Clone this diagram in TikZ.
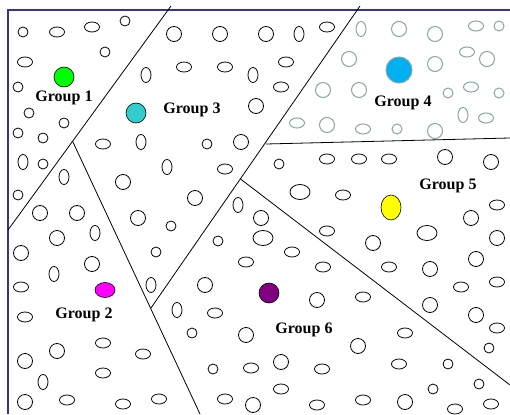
\documentclass[tikz,border=0pt]{standalone}
\usepackage{fontspec}
\setmainfont{Liberation Serif}
\definecolor{frameblue}{RGB}{51,51,153}
\definecolor{grpgray}{RGB}{138,165,165}
\definecolor{dotteal}{RGB}{51,204,204}
\definecolor{dotblue}{RGB}{0,176,240}
\definecolor{dotpurple}{RGB}{128,0,128}
\definecolor{dotmagenta}{RGB}{255,0,255}
\definecolor{dotgreen}{RGB}{0,255,0}
\definecolor{dotyellow}{RGB}{255,255,0}
\newcommand\myS[2]{\draw[el] (#1,#2) circle[radius=5];}
\newcommand\myB[2]{\draw[el] (#1,#2) circle[radius=7.5];}
\newcommand\myW[2]{\draw[el] (#1,#2) ellipse[x radius=7.5,y radius=5];}
\newcommand\myV[2]{\draw[el] (#1,#2) ellipse[x radius=5,y radius=7.5];}
\newcommand\myL[2]{\draw[el] (#1,#2) ellipse[x radius=10,y radius=7.5];}
\tikzset{
  el/.style={draw=black,line width=0.8pt},
  divider/.style={draw=black,line width=0.8pt},
  grouplabel/.style={font=\fontsize{16}{18}\selectfont\bfseries,anchor=base,inner sep=0pt},
  dot/.style={draw=black,line width=0.6pt,inner sep=0pt,ellipse,minimum width=20pt,minimum height=20pt},
}
\usetikzlibrary{shapes.geometric}
\begin{document}
\begin{tikzpicture}[x=1pt,y=-1pt]
\useasboundingbox (0,0) rectangle (510,414);
% frame
\draw[frameblue,line width=1.5pt] (8,414) -- (8,10) -- (510,10);
% dividers
\coordinate (a1) at (171,6);
\coordinate (a2) at (8,230);
\coordinate (b1) at (72.6,141.3);
\coordinate (b2) at (200,414);
\coordinate (c1) at (360,6);
\coordinate (c2) at (151,308);
\coordinate (d1) at (266,144);
\coordinate (d2) at (510,138);
\coordinate (e1) at (240.4,178.9);
\coordinate (e2) at (510,385);
\draw[divider] (a1) -- (a2);
\draw[divider] (b1) -- (b2);
\draw[divider] (c1) -- (c2);
\draw[divider] (d1) -- (d2);
\draw[divider] (e1) -- (e2);
% group 1
\myS{23}{32}\myW{57}{32}\myW{92}{27}\myS{125}{21}\myS{105}{52}\myW{25}{62}
\myS{18}{87}\myS{29}{113}\myS{64}{123}\myS{18}{133}\myS{43}{138}
\myV{23}{162}\myS{43}{164}\myV{64}{177}\myS{18}{195}
% group 2
\myB{40}{213}\myB{77}{213}\myB{57}{238}\myV{95}{233}\myB{21}{253}\myB{92}{264}
\myV{54}{274}\myW{21}{287}\myW{25}{317}\myW{103}{343}\myB{57}{351}\myW{143}{354}
\myB{25}{361}\myV{43}{382}\myW{103}{373}\myB{25}{402}\myW{67}{400}\myW{123}{404}\myW{159}{399}
% group 3
\myB{174}{34}\myB{220}{34}\myB{266}{34}\myV{299}{34}\myW{327}{27}\myW{286}{62}\myW{281}{87}
\myB{256}{106}\myV{253}{75}\myV{146}{75}\myW{184}{67}\myW{225}{67}
\myW{103}{144}\myV{141}{142}\myS{207}{144}\myB{241}{142}\myV{167}{167}\myW{225}{169}
\myB{123}{182}\myB{195}{198}\myV{238}{205}\myB{138}{218}\myS{171}{226}\myS{156}{252}\myV{151}{285}
% group 4
\begin{scope}[el/.style={draw=grpgray,line width=1pt}]
\myV{361}{29}\myB{399}{29}\myB{435}{34}\myW{476}{26}\myS{499}{26}
\myB{349}{59}\myB{435}{64}\myW{467}{52}\myB{487}{59}
\myB{323}{90}\myB{359}{90}\myS{448}{93}\myW{471}{87}\myS{499}{93}
\myW{297}{123}\myB{327}{125}\myW{363}{129}\myS{397}{129}\myB{435}{131}\myV{463}{115}\myW{486}{118}
\end{scope}
% group 5
\myS{279}{164}\myW{327}{159}\myW{359}{159}\myW{389}{159}\myB{445}{157}\myB{491}{162}
\myL{300}{192}\myW{343}{195}\myW{497}{205}\myB{471}{218}\myL{427}{233}\myB{373}{243}
\myB{497}{238}\myW{327}{231}\myW{389}{267}\myB{430}{269}\myB{476}{259}\myW{461}{287}
\myW{497}{282}\myB{430}{305}\myB{476}{315}\myW{497}{328}\myS{489}{348}
% group 6
\myB{261}{218}\myL{263}{238}\myW{292}{252}\myW{323}{267}\myW{246}{262}\myS{218}{241}
\myB{205}{285}\myW{215}{313}\myV{177}{310}\myS{192}{333}\myB{246}{335}
\myB{317}{300}\myW{363}{297}\myW{405}{333}\myB{358}{346}\myB{281}{362}\myW{322}{369}
\myW{251}{368}\myS{213}{369}\myW{399}{364}\myS{448}{364}\myW{281}{389}\myW{317}{405}
\myW{363}{400}\myB{405}{402}\myS{433}{389}\myW{455}{409}\myS{479}{384}\myW{491}{404}
\myB{253}{405}\myW{225}{399}
% colored dots
\node[dot,fill=dotgreen] (g1) at (64,77) {};
\node[dot,fill=dotteal] (g3) at (136,113) {};
\node[dot,fill=dotblue,draw=grpgray,line width=1pt,minimum width=26pt,minimum height=26pt] (g4) at (399,70) {};
\node[dot,fill=dotyellow,minimum width=20pt,minimum height=25pt] (g5) at (391,207.5) {};
\node[dot,fill=dotmagenta,minimum width=20pt,minimum height=15pt] (g2) at (105,290) {};
\node[dot,fill=dotpurple] (g6) at (269,293) {};
% labels
\node[grouplabel] (l1) at (64,102) {Group 1};
\node[grouplabel] (l3) at (192,114) {Group 3};
\node[grouplabel] (l4) at (403,107) {Group 4};
\node[grouplabel] (l5) at (448,189) {Group 5};
\node[grouplabel] (l2) at (84,318) {Group 2};
\node[grouplabel] (l6) at (304,333) {Group 6};
\end{tikzpicture}
\end{document}
